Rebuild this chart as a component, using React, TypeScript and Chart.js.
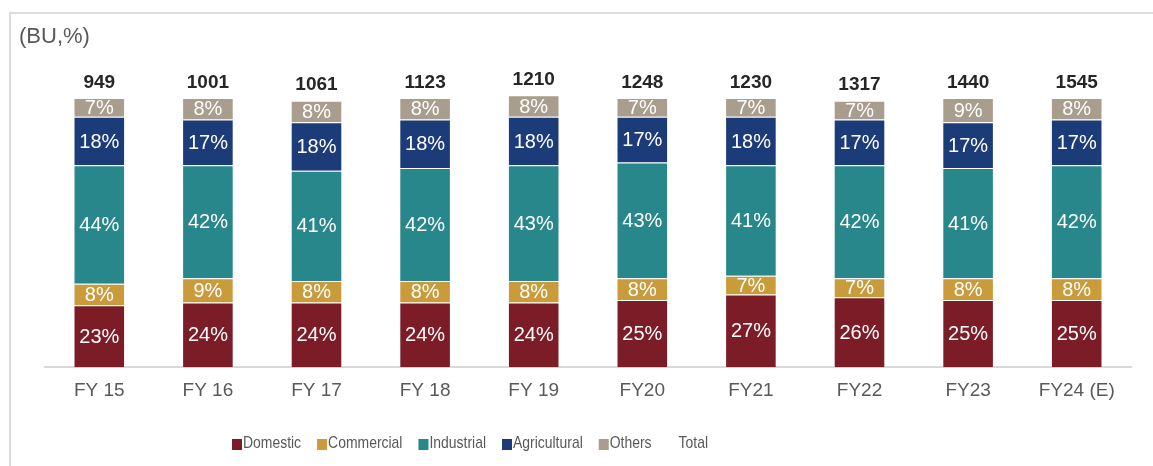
import React, { useEffect, useRef } from "react";
import { Chart, registerables } from "chart.js";
Chart.register(...registerables);

const categories = ["FY 15", "FY 16", "FY 17", "FY 18", "FY 19", "FY20", "FY21", "FY22", "FY23", "FY24 (E)"];
const domestic = [23, 24, 24, 24, 24, 25, 27, 26, 25, 25];
const commercial = [8, 9, 8, 8, 8, 8, 7, 7, 8, 8];
const industrial = [44, 42, 41, 42, 43, 43, 41, 42, 41, 42];
const agricultural = [18, 17, 18, 18, 18, 17, 18, 17, 17, 17];
const others = [7, 8, 8, 8, 8, 7, 7, 7, 9, 8];
const totals = [949, 1001, 1061, 1123, 1210, 1248, 1230, 1317, 1440, 1545];
const seriesNames = ["Domestic", "Commercial", "Industrial", "Agricultural", "Others"];
const totalLabel = "Total";
const unitLabel = "(BU,%)";

const COLORS = ["#7B1C27", "#C99B3B", "#27878A", "#1B3C78", "#A99D8D"];
const FONT = '"Liberation Sans", Arial, sans-serif';

const W = 1153;
const H = 466;

const decorPlugin = {
  id: "decor",
  beforeDraw(chart: any) {
    const ctx = chart.ctx;
    ctx.save();
    ctx.fillStyle = "#ffffff";
    ctx.fillRect(0, 0, W, H);
    ctx.strokeStyle = "#dcdcdc";
    ctx.lineWidth = 2;
    ctx.beginPath();
    ctx.moveTo(10, H + 5);
    ctx.lineTo(10, 13);
    ctx.lineTo(W + 5, 13);
    ctx.stroke();
    ctx.fillStyle = "#595959";
    ctx.font = `22px ${FONT}`;
    ctx.textBaseline = "middle";
    ctx.textAlign = "left";
    ctx.fillText(unitLabel, 19, 37);
    ctx.restore();
  },
  afterDatasetsDraw(chart: any) {
    const ctx = chart.ctx;
    ctx.save();
    ctx.textAlign = "center";
    ctx.textBaseline = "middle";
    ctx.fillStyle = "#ffffff";
    ctx.font = `20px ${FONT}`;
    chart.data.datasets.forEach((ds: any, di: number) => {
      const meta = chart.getDatasetMeta(di);
      meta.data.forEach((el: any, i: number) => {
        const p = el.getProps(["x", "y", "base"], true);
        ctx.fillText(`${ds.data[i]}%`, p.x, (p.y + p.base) / 2 + 1);
      });
    });
    const lastMeta = chart.getDatasetMeta(chart.data.datasets.length - 1);
    ctx.fillStyle = "#262626";
    ctx.font = `bold 19px ${FONT}`;
    ctx.textBaseline = "bottom";
    lastMeta.data.forEach((el: any, i: number) => {
      const p = el.getProps(["x", "y"], true);
      ctx.fillText(String(totals[i]), p.x, p.y - 6);
    });

    // legend (condensed text, as in the reference)
    const sx = 0.82;
    let x = 232;
    const cy = 443;
    ctx.font = `17px ${FONT}`;
    ctx.textAlign = "left";
    ctx.textBaseline = "middle";
    const items = [...seriesNames.map((n, i) => ({ n, c: COLORS[i] })), { n: totalLabel, c: null as any }];
    items.forEach((it) => {
      if (it.c) {
        ctx.fillStyle = it.c;
        ctx.fillRect(x, cy - 4, 10, 11);
      }
      ctx.fillStyle = "#595959";
      ctx.save();
      ctx.translate(x + 11, cy);
      ctx.scale(sx, 1);
      ctx.fillText(it.n, 0, 0);
      ctx.restore();
      x += 11 + ctx.measureText(it.n).width * sx + 16;
    });
    ctx.restore();
  },
};

export default function App() {
  const ref = useRef<HTMLCanvasElement>(null);
  useEffect(() => {
    if (!ref.current) return;
    const series = [domestic, commercial, industrial, agricultural, others];
    const chart = new Chart(ref.current, {
      type: "bar",
      data: {
        labels: categories,
        datasets: series.map((d, i) => ({
          label: seriesNames[i],
          data: d,
          backgroundColor: COLORS[i],
          borderColor: "rgba(255,255,255,0.55)",
          borderWidth: 1,
          categoryPercentage: 1,
          barPercentage: 0.475,
          clip: false as any,
        })),
      },
      options: {
        responsive: false,
        animation: false,
        events: [],
        layout: { padding: { left: 45, right: 22, top: 98, bottom: 52 } },
        plugins: {
          legend: { display: false },
          tooltip: { enabled: false },
          title: { display: false },
        },
        scales: {
          x: {
            stacked: true,
            grid: { display: false, drawTicks: false },
            border: { display: true, color: "#d9d9d9", width: 2 },
            ticks: { color: "#595959", font: { family: FONT, size: 19 }, padding: 12 },
          },
          y: {
            stacked: true,
            display: false,
            min: 0,
            max: 100,
          },
        },
      },
      plugins: [decorPlugin],
    });
    return () => chart.destroy();
  }, []);
  return (
    <div style={{ position: "fixed", left: 0, top: 0, width: W, height: H, background: "#fff" }}>
      <canvas ref={ref} width={W} height={H} style={{ display: "block" }} />
    </div>
  );
}
